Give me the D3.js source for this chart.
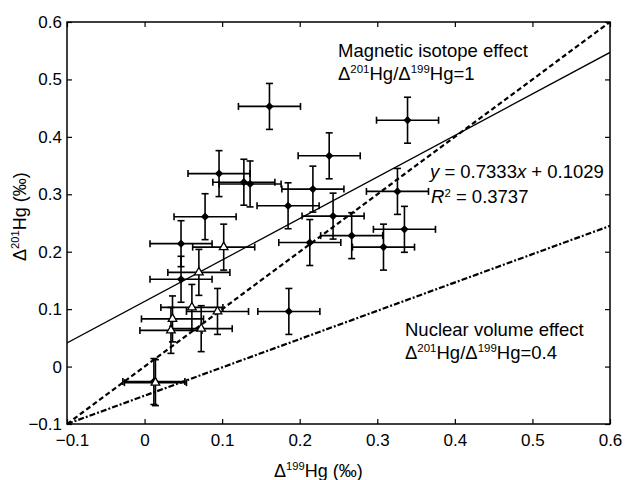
<!DOCTYPE html>
<html>
<head>
<meta charset="utf-8">
<script src="https://cdn.jsdelivr.net/npm/d3@7/dist/d3.min.js"></script>
<style>
  html, body { margin: 0; padding: 0; background: #fff; }
  svg { display: block; }
  text { font-family: "Liberation Sans", Arial, sans-serif; fill: #000; }
</style>
</head>
<body>
<svg id="chart" width="627" height="480"></svg>
<script>
// ---- data ----
const tickValues = [-0.1, 0, 0.1, 0.2, 0.3, 0.4, 0.5, 0.6];
const xTickLabels = ["\u22120.1", "0", "0.1", "0.2", "0.3", "0.4", "0.5", "0.6"];
const yTickLabels = ["\u22120.1", "0", "0.1", "0.2", "0.3", "0.4", "0.5", "0.6"];

// filled diamonds: Δ199Hg, Δ201Hg, errors
const filledX = [0.161, 0.339, 0.238, 0.096, 0.128, 0.136, 0.217, 0.326, 0.185, 0.078, 0.243, 0.335, 0.267, 0.213, 0.047, 0.308, 0.047, 0.186, 0.012];
const filledY = [0.453, 0.429, 0.367, 0.336, 0.321, 0.318, 0.309, 0.305, 0.280, 0.261, 0.262, 0.239, 0.228, 0.216, 0.214, 0.208, 0.152, 0.096, -0.026];
const filledXErr = 0.04;
const filledYErr = 0.04;

// open triangles
const openX = [0.102, 0.070, 0.061, 0.094, 0.036, 0.034, 0.073, 0.014];
const openY = [0.208, 0.164, 0.103, 0.096, 0.083, 0.063, 0.066, -0.028];
const openXErr = 0.04;
const openYErr = 0.04;

// reference lines (endpoints)
const regressionLine = [[-0.1, 0.041], [0.6, 0.547]];
const magneticLine = [[-0.1, -0.1], [0.6, 0.6]];
const nuclearLine = [[-0.1, -0.1], [0.6, 0.245]];

// ---- layout ----
const svg = d3.select("#chart");
const L = 67, R = 610, T = 22, B = 424;
const x = d3.scaleLinear().domain([-0.1, 0.6]).range([L, R]);
const y = d3.scaleLinear().domain([-0.1, 0.6]).range([B, T]);

svg.append("rect").attr("width", 627).attr("height", 480).attr("fill", "#fff");

svg.append("clipPath").attr("id", "clip")
  .append("rect").attr("x", L).attr("y", T).attr("width", R - L).attr("height", B - T);

// axes
const fs = 17;
const gx = svg.append("g").attr("transform", `translate(0,${B})`)
  .call(d3.axisBottom(x).tickValues(tickValues).tickSize(-5).tickPadding(10)
    .tickFormat((d, i) => xTickLabels[i]));
const gy = svg.append("g").attr("transform", `translate(${L},0)`)
  .call(d3.axisLeft(y).tickValues(tickValues).tickSize(-5).tickPadding(5)
    .tickFormat((d, i) => yTickLabels[i]));
const gt = svg.append("g").attr("transform", `translate(0,${T})`)
  .call(d3.axisTop(x).tickValues(tickValues).tickSize(-5).tickFormat(""));
const gr = svg.append("g").attr("transform", `translate(${R},0)`)
  .call(d3.axisRight(y).tickValues(tickValues).tickSize(-5).tickFormat(""));
[gx, gy, gt, gr].forEach(g => {
  g.select(".domain").remove();
  g.selectAll(".tick line").attr("stroke", "#000").attr("stroke-width", 1.2);
  g.selectAll(".tick text").style("font-family", "Liberation Sans, Arial, sans-serif")
    .style("font-size", fs + "px").attr("fill", "#000");
});
// the first x label sits a little right of its tick, clear of the y labels
gx.selectAll(".tick text").filter((d, i) => i === 0).attr("dx", 5);

svg.append("rect").attr("x", L).attr("y", T).attr("width", R - L).attr("height", B - T)
  .attr("fill", "none").attr("stroke", "#000").attr("stroke-width", 1.5);

// lines
const line = d3.line().x(d => x(d[0])).y(d => y(d[1]));
const lg = svg.append("g").attr("clip-path", "url(#clip)");
lg.append("path").attr("d", line(regressionLine)).attr("fill", "none")
  .attr("stroke", "#000").attr("stroke-width", 1.3);
lg.append("path").attr("d", line(magneticLine)).attr("fill", "none")
  .attr("stroke", "#000").attr("stroke-width", 2.2).attr("stroke-dasharray", "5,3");
lg.append("path").attr("d", line(nuclearLine)).attr("fill", "none")
  .attr("stroke", "#000").attr("stroke-width", 2.2).attr("stroke-dasharray", "6,2,2,2");

// error bars
const cap = 3.5;
function errorBars(xs, ys, xe, ye) {
  const g = svg.append("g").attr("stroke", "#000").attr("stroke-width", 1.6).attr("fill", "none");
  xs.forEach((xv, i) => {
    const yv = ys[i];
    const px = x(xv), py = y(yv);
    const x0 = x(xv - xe), x1 = x(xv + xe), y0 = y(yv - ye), y1 = y(yv + ye);
    g.append("line").attr("x1", x0).attr("x2", x1).attr("y1", py).attr("y2", py);
    g.append("line").attr("x1", x0).attr("x2", x0).attr("y1", py - cap).attr("y2", py + cap);
    g.append("line").attr("x1", x1).attr("x2", x1).attr("y1", py - cap).attr("y2", py + cap);
    g.append("line").attr("x1", px).attr("x2", px).attr("y1", y0).attr("y2", y1);
    g.append("line").attr("x1", px - cap).attr("x2", px + cap).attr("y1", y0).attr("y2", y0);
    g.append("line").attr("x1", px - cap).attr("x2", px + cap).attr("y1", y1).attr("y2", y1);
  });
}
errorBars(filledX, filledY, filledXErr, filledYErr);
errorBars(openX, openY, openXErr, openYErr);

// markers
svg.append("g").selectAll("path").data(filledX).join("path")
  .attr("d", d3.symbol(d3.symbolSquare, 34))
  .attr("transform", (d, i) => `translate(${x(d)},${y(filledY[i])}) rotate(45)`)
  .attr("fill", "#000");
svg.append("g").selectAll("path").data(openX).join("path")
  .attr("d", d3.symbol(d3.symbolTriangle, 32))
  .attr("transform", (d, i) => `translate(${x(d)},${y(openY[i])})`)
  .attr("fill", "#fff").attr("stroke", "#000").attr("stroke-width", 1.3);

// annotations
const afs = 18.5;
function isoText(xp, yp, parts, size) {
  const t = svg.append("text").attr("x", xp).attr("y", yp).style("font-size", size + "px");
  parts.forEach(p => {
    const s = t.append("tspan").text(p.t);
    const rise = p.rise !== undefined ? p.rise : 0.38;
    if (p.sup) s.style("font-size", (size * 0.62) + "px").attr("dy", -size * rise);
    if (p.down) s.attr("dy", size * (p.fall !== undefined ? p.fall : 0.38));
    if (p.it) s.style("font-style", "italic");
    if (p.dx) s.attr("dx", p.dx);
  });
  return t;
}
isoText(338, 57, [{t: "Magnetic isotope effect"}], afs);
isoText(338, 80, [{t: "\u0394"}, {t: "201", sup: true}, {t: "Hg/\u0394", down: true},
  {t: "199", sup: true}, {t: "Hg=1", down: true}], afs);
isoText(405, 336, [{t: "Nuclear volume effect"}], afs);
isoText(405, 359, [{t: "\u0394"}, {t: "201", sup: true}, {t: "Hg/\u0394", down: true},
  {t: "199", sup: true}, {t: "Hg=0.4", down: true}], afs);
isoText(430, 178, [{t: "y", it: true}, {t: " = 0.7333"}, {t: "x", it: true}, {t: " + 0.1029"}], afs);
isoText(431, 203, [{t: "R", it: true}, {t: "2", sup: true, rise: 0.3},
  {t: " = 0.3737", down: true, fall: 0.3}], afs);

// axis titles
isoText(274, 477, [{t: "\u0394"}, {t: "199", sup: true}, {t: "Hg (\u2030)", down: true}], 18);
isoText(0, 0, [{t: "\u0394"}, {t: "201", sup: true}, {t: "Hg (\u2030)", down: true}], 18)
  .attr("transform", "translate(26,261) rotate(-90)");
</script>
</body>
</html>
